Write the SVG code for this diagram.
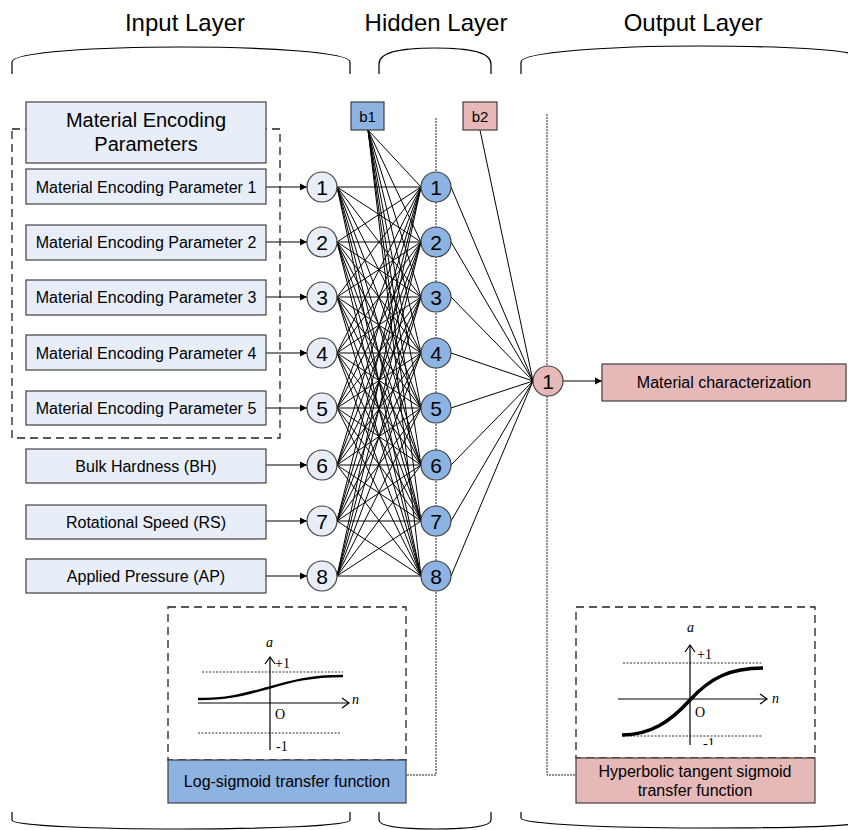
<svg xmlns="http://www.w3.org/2000/svg" width="848" height="830" viewBox="0 0 848 830">
<style>
.t{font-family:"Liberation Sans",Arial,sans-serif;fill:#000;text-anchor:middle}
.title{font-size:24px}
.lbl{font-size:16px}
.num{font-size:21px}
.bx{fill:#E7EEF8;stroke:#404040;stroke-width:1.2}
.bb{fill:#8DB3E2;stroke:#404040;stroke-width:1.2}
.pk{fill:#E6B9B8;stroke:#404040;stroke-width:1.2}
.brk{fill:none;stroke:#000;stroke-width:1.2}
.dash{fill:none;stroke:#222;stroke-width:1.3;stroke-dasharray:8,5}
.dot{fill:none;stroke:#222;stroke-width:1;stroke-dasharray:2,1}
.ln{fill:none;stroke:#000;stroke-width:1}
.g{font-family:"Liberation Serif","Times New Roman",serif;font-size:14px;fill:#000}
</style>
<defs>
<marker id="ah" markerWidth="8" markerHeight="8" refX="7" refY="4" orient="auto" markerUnits="userSpaceOnUse">
<path d="M0,0.5 L7,4 L0,7.5 Z" fill="#000"/>
</marker>
<clipPath id="cr"><rect x="600" y="615" width="200" height="130"/></clipPath>
<clipPath id="cl"><rect x="180" y="615" width="200" height="143"/></clipPath>
</defs>

<g id="titles">
<text class="t title" x="185" y="31">Input Layer</text>
<text class="t title" x="436" y="31">Hidden Layer</text>
<text class="t title" x="693" y="31">Output Layer</text>
</g>

<g id="brackets">
<path class="brk" d="M12,74 V62 C12,52 100,47 181,47 C262,47 350,52 350,62 V74"/>
<path class="brk" d="M379,74 V64 C379,52 400,48 435,48 C470,48 491,52 491,64 V74"/>
<path class="brk" d="M521,74 V62 C521,52 610,46 700,46 C790,46 840,50 852,54"/>
<path class="brk" d="M12,812 V820 C12,826 100,829 181,829 C262,829 350,826 350,820 V812"/>
<path class="brk" d="M379,812 V820 C379,826 400,829 435,829 C470,829 491,826 491,820 V812"/>
<path class="brk" d="M521,812 V818 C521,824 610,828 700,828 C790,828 840,826 852,824"/>
</g>

<g id="guides">
<path class="dot" d="M436,118 V775 H406"/>
<path class="dot" d="M547,114 V775 H576"/>
</g>

<g id="connectors">
<path class="ln" d="M337,187L421,187M337,187L421,242M337,187L421,297M337,187L421,353M337,187L421,408M337,187L421,465M337,187L421,521M337,187L421,576
M337,242L421,187M337,242L421,242M337,242L421,297M337,242L421,353M337,242L421,408M337,242L421,465M337,242L421,521M337,242L421,576
M337,297L421,187M337,297L421,242M337,297L421,297M337,297L421,353M337,297L421,408M337,297L421,465M337,297L421,521M337,297L421,576
M337,353L421,187M337,353L421,242M337,353L421,297M337,353L421,353M337,353L421,408M337,353L421,465M337,353L421,521M337,353L421,576
M337,408L421,187M337,408L421,242M337,408L421,297M337,408L421,353M337,408L421,408M337,408L421,465M337,408L421,521M337,408L421,576
M337,465L421,187M337,465L421,242M337,465L421,297M337,465L421,353M337,465L421,408M337,465L421,465M337,465L421,521M337,465L421,576
M337,521L421,187M337,521L421,242M337,521L421,297M337,521L421,353M337,521L421,408M337,521L421,465M337,521L421,521M337,521L421,576
M337,576L421,187M337,576L421,242M337,576L421,297M337,576L421,353M337,576L421,408M337,576L421,465M337,576L421,521M337,576L421,576"/>
<path class="ln" d="M368,130L421,187M368,130L421,242M368,130L421,297M368,130L421,353M368,130L421,408M368,130L421,465M368,130L421,521M368,130L421,576"/>
<path class="ln" d="M451,187L533,381M451,242L533,381M451,297L533,381M451,353L533,381M451,408L533,381M451,465L533,381M451,521L533,381M451,576L533,381M480,130L533,381"/>
<g class="ln" marker-end="url(#ah)">
<line x1="266" y1="187" x2="307" y2="187"/>
<line x1="266" y1="242" x2="307" y2="242"/>
<line x1="266" y1="297" x2="307" y2="297"/>
<line x1="266" y1="353" x2="307" y2="353"/>
<line x1="266" y1="408" x2="307" y2="408"/>
<line x1="266" y1="465" x2="307" y2="465"/>
<line x1="266" y1="521" x2="307" y2="521"/>
<line x1="266" y1="576" x2="307" y2="576"/>
<line x1="563" y1="381" x2="602" y2="381" stroke="#555" stroke-width="1.5"/>
</g>
</g>

<g id="param-group">
<rect class="dash" x="12" y="129" width="268" height="309"/>
</g>

<g id="params-title">
<rect class="bx" x="26" y="102" width="240" height="61"/>
<text class="t" font-size="20" x="146" y="127">Material Encoding</text>
<text class="t" font-size="20" x="146" y="151">Parameters</text>
</g>
<g id="in-box-1"><rect class="bx" x="26" y="169" width="240" height="35"/><text class="t lbl" x="146" y="192.5">Material Encoding Parameter 1</text></g>
<g id="in-box-2"><rect class="bx" x="26" y="225" width="240" height="35"/><text class="t lbl" x="146" y="248">Material Encoding Parameter 2</text></g>
<g id="in-box-3"><rect class="bx" x="26" y="280" width="240" height="35"/><text class="t lbl" x="146" y="303">Material Encoding Parameter 3</text></g>
<g id="in-box-4"><rect class="bx" x="26" y="335" width="240" height="35"/><text class="t lbl" x="146" y="358.5">Material Encoding Parameter 4</text></g>
<g id="in-box-5"><rect class="bx" x="26" y="391" width="240" height="34"/><text class="t lbl" x="146" y="413.5">Material Encoding Parameter 5</text></g>
<g id="in-box-6"><rect class="bx" x="26" y="449" width="240" height="34"/><text class="t lbl" x="146" y="471.5">Bulk Hardness (BH)</text></g>
<g id="in-box-7"><rect class="bx" x="26" y="505" width="240" height="34"/><text class="t lbl" x="146" y="527.5">Rotational Speed (RS)</text></g>
<g id="in-box-8"><rect class="bx" x="26" y="559" width="240" height="34"/><text class="t lbl" x="146" y="581.5">Applied Pressure (AP)</text></g>

<g id="in-node-1"><circle class="bx" cx="322" cy="187" r="15"/><text class="t num" x="322" y="194.5">1</text></g>
<g id="in-node-2"><circle class="bx" cx="322" cy="242" r="15"/><text class="t num" x="322" y="249.5">2</text></g>
<g id="in-node-3"><circle class="bx" cx="322" cy="297" r="15"/><text class="t num" x="322" y="304.5">3</text></g>
<g id="in-node-4"><circle class="bx" cx="322" cy="353" r="15"/><text class="t num" x="322" y="360.5">4</text></g>
<g id="in-node-5"><circle class="bx" cx="322" cy="408" r="15"/><text class="t num" x="322" y="415.5">5</text></g>
<g id="in-node-6"><circle class="bx" cx="322" cy="465" r="15"/><text class="t num" x="322" y="472.5">6</text></g>
<g id="in-node-7"><circle class="bx" cx="322" cy="521" r="15"/><text class="t num" x="322" y="528.5">7</text></g>
<g id="in-node-8"><circle class="bx" cx="322" cy="576" r="15"/><text class="t num" x="322" y="583.5">8</text></g>

<g id="b1"><rect class="bb" x="351" y="102" width="33" height="28"/><text class="t" font-size="15" x="367.5" y="121.5">b1</text></g>
<g id="b2"><rect class="pk" x="463" y="102" width="34" height="28"/><text class="t" font-size="15" x="480" y="121.5">b2</text></g>

<g id="hid-node-1"><circle class="bb" cx="436" cy="187" r="15"/><text class="t num" x="436" y="194.5">1</text></g>
<g id="hid-node-2"><circle class="bb" cx="436" cy="242" r="15"/><text class="t num" x="436" y="249.5">2</text></g>
<g id="hid-node-3"><circle class="bb" cx="436" cy="297" r="15"/><text class="t num" x="436" y="304.5">3</text></g>
<g id="hid-node-4"><circle class="bb" cx="436" cy="353" r="15"/><text class="t num" x="436" y="360.5">4</text></g>
<g id="hid-node-5"><circle class="bb" cx="436" cy="408" r="15"/><text class="t num" x="436" y="415.5">5</text></g>
<g id="hid-node-6"><circle class="bb" cx="436" cy="465" r="15"/><text class="t num" x="436" y="472.5">6</text></g>
<g id="hid-node-7"><circle class="bb" cx="436" cy="521" r="15"/><text class="t num" x="436" y="528.5">7</text></g>
<g id="hid-node-8"><circle class="bb" cx="436" cy="576" r="15"/><text class="t num" x="436" y="583.5">8</text></g>

<g id="out-node-1"><circle class="pk" cx="548" cy="381" r="15"/><text class="t num" x="548" y="388.5">1</text></g>
<g id="out-box"><rect class="pk" x="602" y="364" width="244" height="37"/><text class="t lbl" x="724" y="388">Material characterization</text></g>

<g id="logsig">
<rect class="dash" x="168" y="607" width="238" height="153"/>
<g clip-path="url(#cl)">
<line x1="202" y1="672" x2="343" y2="672" stroke="#333" stroke-width="1.2" stroke-dasharray="2,1.5"/>
<line x1="198" y1="733" x2="340" y2="733" stroke="#333" stroke-width="1.2" stroke-dasharray="2,1.5"/>
<line x1="198" y1="703" x2="349" y2="703" stroke="#000" stroke-width="1.2"/>
<path d="M342,698 L349,703 L342,708" fill="none" stroke="#000" stroke-width="1.2"/>
<line x1="270" y1="750" x2="270" y2="657" stroke="#000" stroke-width="1.2"/>
<path d="M265,664 L270,657 L275,664" fill="none" stroke="#000" stroke-width="1.2"/>
<path d="M198,699 C230,699 245,694 268,688 C292,681 310,676 343,676" fill="none" stroke="#000" stroke-width="2.5"/>
<text class="g" font-style="italic" x="266" y="647">a</text>
<text class="g" x="275" y="668">+1</text>
<text class="g" font-style="italic" x="352" y="704">n</text>
<text class="g" x="275" y="719">O</text>
<text class="g" x="276" y="751">-1</text>
</g>
</g>
<g id="logsig-label"><rect class="bb" x="168" y="760" width="238" height="43"/><text class="t lbl" x="287" y="787">Log-sigmoid transfer function</text></g>

<g id="tansig">
<rect class="dash" x="576" y="607" width="239" height="151"/>
<g clip-path="url(#cr)">
<line x1="623" y1="663" x2="763" y2="663" stroke="#333" stroke-width="1.2" stroke-dasharray="2,1.5"/>
<line x1="623" y1="736" x2="763" y2="736" stroke="#333" stroke-width="1.2" stroke-dasharray="2,1.5"/>
<line x1="618" y1="699" x2="767" y2="699" stroke="#000" stroke-width="1.2"/>
<path d="M760,694 L767,699 L760,704" fill="none" stroke="#000" stroke-width="1.2"/>
<line x1="690" y1="760" x2="690" y2="645" stroke="#000" stroke-width="1.2"/>
<path d="M685,652 L690,645 L695,652" fill="none" stroke="#000" stroke-width="1.2"/>
<path d="M622,735 C650,735 670,722 690,700 C710,678 730,668 763,668" fill="none" stroke="#000" stroke-width="3.5"/>
<text class="g" font-style="italic" x="687" y="632">a</text>
<text class="g" x="697" y="659">+1</text>
<text class="g" font-style="italic" x="772" y="703">n</text>
<text class="g" x="695" y="717">O</text>
<text class="g" x="703" y="748">-1</text>
</g>
</g>
<g id="tansig-label"><rect class="pk" x="576" y="758" width="239" height="45"/>
<text class="t lbl" x="695" y="777">Hyperbolic tangent sigmoid</text>
<text class="t lbl" x="695" y="796">transfer function</text></g>
</svg>
